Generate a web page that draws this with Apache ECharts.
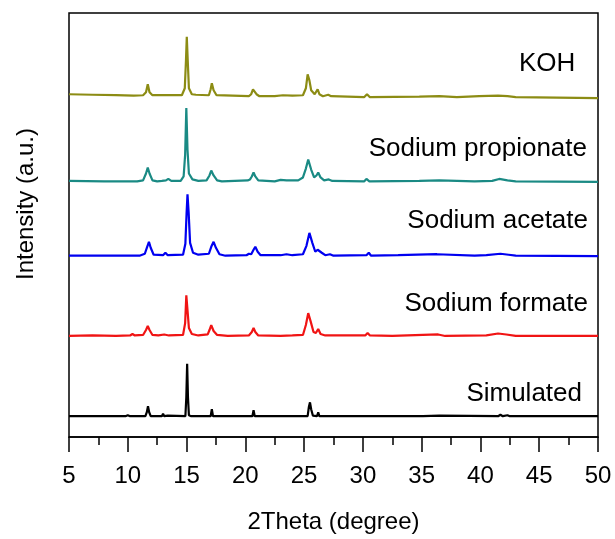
<!DOCTYPE html>
<html>
<head>
<meta charset="utf-8">
<title>XRD</title>
<script src="https://cdn.jsdelivr.net/npm/echarts@6/dist/echarts.min.js"></script>
<style>
  html, body { margin: 0; padding: 0; background: #fff; }
  #chart { width: 615px; height: 539px; }
</style>
</head>
<body>
<div id="chart"></div>
<script>
// patterns are already offset (intensity, a.u.)
const seriesNames = ['KOH', 'Sodium propionate', 'Sodium acetate', 'Sodium formate', 'Simulated'];
const xTicks = [5, 10, 15, 20, 25, 30, 35, 40, 45, 50];

const koh = [
  [5,346],[7,345.5],[9,345],[10.5,344.5],[11.3,345],[11.55,348],[11.7,356],[11.85,348],[12.1,345],
  [12.9,345],[13.05,347],[13.2,345],[14.6,345],[14.85,352],[14.95,380],[15.02,404],[15.1,380],[15.2,352],
  [15.45,346],[15.8,345.5],[16.9,345],[17.05,351],[17.15,357],[17.3,350],[17.55,345],[20.3,344],[20.5,346],
  [20.65,351],[20.8,352],[20.95,346],[21.2,344],[22.5,344],[23.2,345],[24,344.5],[24.9,345],[25.15,352],
  [25.3,366],[25.45,360],[25.6,350],[25.9,346],[26.15,351],[26.3,346],[26.6,344],[27.05,345.5],[27.3,344],
  [30.1,343],[30.35,346],[30.6,343],[34.8,343.5],[36.5,344],[38,343],[39.9,344],[41.5,344.5],[42.3,344],
  [43,343],[50,342]
];
const propionate = [
  [5,258.5],[8,258],[10.8,258],[11.3,259],[11.55,266],[11.7,272],[11.85,266],[12.1,259],[12.5,258],
  [12.9,258.5],[13.05,260.5],[13.25,259],[13.45,260.5],[13.7,258.5],[14.5,258.5],[14.75,263],[14.88,285],
  [14.98,332],[15.08,290],[15.2,266],[15.5,260],[16,258.5],[16.7,259],[16.95,264],[17.1,269],[17.3,264],
  [17.6,259],[18,258],[20.2,259],[20.4,260],[20.55,263],[20.7,267],[20.85,263],[21.1,259],[22.5,258],
  [23,259.5],[23.5,259],[24.5,259],[24.9,262],[25.15,271],[25.35,280],[25.6,270],[25.85,262],[26.05,264],
  [26.2,267],[26.4,262],[26.7,259],[27.1,260],[27.4,258.5],[30.1,258],[30.3,260.5],[30.55,258],[34.8,258.5],
  [36.5,259],[39.5,258],[41,258.5],[41.6,260.5],[42.3,259],[43,258],[50,257.5]
];
const acetate = [
  [5,183],[8,183],[11,183],[11.45,185],[11.65,192],[11.8,197],[11.95,191],[12.2,184],[13,183.5],
  [13.2,186],[13.4,183.5],[14.7,184],[14.9,195],[15.0,225],[15.08,245],[15.18,226],[15.3,196],[15.55,186],
  [16,184],[16.9,185],[17.1,192],[17.3,197],[17.5,191],[17.8,184.5],[18.3,183],[20.1,183.5],[20.3,185],
  [20.5,184.5],[20.7,189],[20.85,192],[21.05,187],[21.3,183.5],[23,183.5],[23.5,184.5],[24,183.5],
  [24.9,184.5],[25.2,193],[25.45,206],[25.7,196],[25.95,187],[26.15,189],[26.3,190],[26.5,186],[26.8,183.5],
  [27.2,184.5],[27.5,183],[30.3,183.5],[30.5,186],[30.7,183],[33,183.5],[36.3,184.5],[39.5,183],[40.5,183.5],
  [41.7,185],[42.4,184],[43,183],[50,182.5]
];
const formate = [
  [5,102],[7,102.5],[9,102],[10.2,102.5],[10.4,104],[10.6,102.5],[11.3,103],[11.55,108],[11.7,112],
  [11.85,108],[12.1,103],[12.6,102.5],[13.1,103.5],[13.5,102.5],[14.7,103],[14.88,115],[14.98,143],
  [15.08,128],[15.2,110],[15.45,104],[16,102.5],[16.8,103.5],[16.95,108],[17.1,113],[17.3,107],[17.6,103],
  [18.5,102],[20.3,102.5],[20.55,106],[20.7,110],[20.85,106],[21.1,102.5],[23,102],[24,102.5],[24.9,103],
  [25.15,113],[25.35,125],[25.55,117],[25.8,106],[26.0,105],[26.2,109],[26.4,104],[26.8,102.5],[30.2,102.5],
  [30.4,105],[30.6,102.5],[32.5,102],[36.4,103.5],[37,102],[40.5,102.5],[41.5,104.5],[42.2,103.5],[43,102],
  [50,102]
];
const simulated = [
  [5,21],[9.8,21],[10,22],[10.2,21],[11.5,21],[11.62,25],[11.72,31],[11.82,25],[11.95,21],[12.9,21],
  [13.0,23.5],[13.1,21],[13.4,21.5],[14.9,21],[14.98,40],[15.05,74],[15.12,40],[15.2,22],[15.4,21],
  [17.05,21],[17.15,28],[17.25,21],[20.6,21],[20.7,27],[20.8,21],[23.2,21],[23.3,22],[23.4,21],[25.3,21],
  [25.4,30],[25.5,35],[25.6,28],[25.75,21.5],[26.1,21],[26.2,25],[26.3,21],[30.3,21],[30.4,23],[30.5,21],
  [34.9,21],[35,22],[35.1,21],[36.5,21.5],[41.5,21],[41.7,22.5],[41.9,21],[42.3,22],[42.5,21],[50,21]
];

const patterns = [koh, propionate, acetate, formate, simulated];
const lineColors = ['#8c8c14', '#1a8a84', '#0000f0', '#f01414', '#000000'];

const chart = echarts.init(document.getElementById('chart'));
const font = 'Arial, "Liberation Sans", sans-serif';

chart.setOption({
  animation: false,
  backgroundColor: '#fff',
  grid: {
    left: 69, right: 17, top: 13, bottom: 98,
    show: true, borderColor: '#000', borderWidth: 1.5
  },
  xAxis: {
    type: 'value',
    min: 5, max: 50, interval: 5,
    name: '2Theta (degree)',
    nameLocation: 'middle',
    nameGap: 73,
    nameTextStyle: { fontSize: 24, color: '#000', fontFamily: font },
    axisLine: { show: true, lineStyle: { color: '#000', width: 1.5 } },
    axisTick: { show: true, length: 15, lineStyle: { color: '#000', width: 1.5 } },
    minorTick: { show: true, splitNumber: 2, length: 8, lineStyle: { color: '#000', width: 1.5 } },
    axisLabel: {
      margin: 27, fontSize: 24, color: '#000', fontFamily: font,
      formatter: v => (xTicks.indexOf(v) >= 0 ? String(v) : '')
    },
    splitLine: { show: false }
  },
  yAxis: {
    type: 'value',
    min: 0, max: 428,
    axisLine: { show: false },
    axisTick: { show: false },
    axisLabel: { show: false },
    splitLine: { show: false }
  },
  graphic: [
    { type: 'text', left: 519, top: 51, style: { text: seriesNames[0], font: '26px ' + font, fill: '#000' } },
    { type: 'text', right: 28, top: 136, style: { text: seriesNames[1], font: '26px ' + font, fill: '#000' } },
    { type: 'text', right: 27, top: 208, style: { text: seriesNames[2], font: '26px ' + font, fill: '#000' } },
    { type: 'text', right: 27, top: 291, style: { text: seriesNames[3], font: '26px ' + font, fill: '#000' } },
    { type: 'text', right: 33, top: 381, style: { text: seriesNames[4], font: '26px ' + font, fill: '#000' } },
    {
      type: 'text', x: 26, y: 204, rotation: Math.PI / 2,
      style: { text: 'Intensity (a.u.)', font: '24px ' + font, fill: '#000', align: 'center', verticalAlign: 'middle' }
    }
  ],
  series: patterns.map((data, i) => ({
    name: seriesNames[i],
    type: 'line',
    data: data,
    showSymbol: false,
    symbol: 'none',
    lineStyle: { color: lineColors[i], width: 2.2 },
    z: 2
  }))
});
</script>
</body>
</html>
